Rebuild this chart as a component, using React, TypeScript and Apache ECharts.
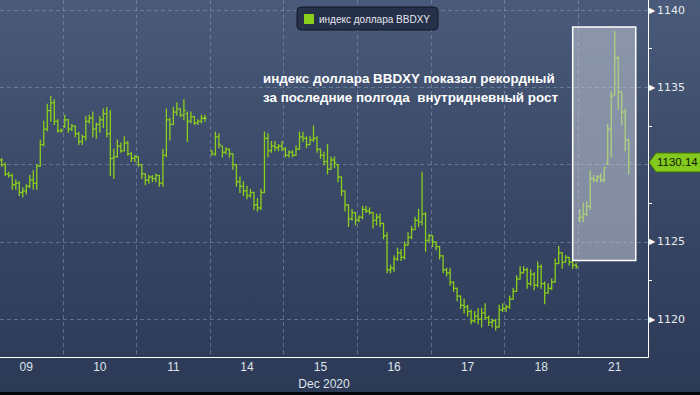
import React, { useEffect, useRef } from 'react';
import * as echarts from 'echarts';

type Bar = [number, number, number, number] | null; // open, high, low, close

const seriesName = 'индекс доллара BBDXY';
const annotation = 'индекс доллара BBDXY показал рекордный\nза последние полгода  внутридневный рост';
const dayLabels = ['09', '10', '11', '14', '15', '16', '17', '18', '21'];
const daySlots = [18, 21, 21, 21, 21, 21, 21, 21, 20];
const dayCenterSlot = [7, 10, 10, 10, 10, 10, 10, 10, 10];
const axisName = 'Dec 2020';

const dec09: Bar[] = [
  [1130.3, 1130.4, 1129.9, 1130.0], [1130.0, 1130.1, 1129.3, 1129.4], [1129.4, 1129.5, 1129.2, 1129.3],
  [1129.3, 1129.4, 1128.4, 1128.7], [1128.7, 1129.0, 1128.4, 1128.8], [1128.8, 1128.9, 1128.0, 1128.2],
  [1128.2, 1128.5, 1127.9, 1128.3], [1128.3, 1128.7, 1128.1, 1128.6], [1128.6, 1129.3, 1128.5, 1129.0],
  [1129.0, 1129.6, 1128.4, 1128.8], [1128.8, 1130.0, 1128.4, 1129.9], [1129.9, 1131.6, 1129.9, 1131.3],
  [1131.3, 1132.8, 1131.2, 1132.3], [1132.3, 1133.9, 1132.2, 1133.5], [1133.5, 1134.4, 1132.8, 1134.0],
  [1134.0, 1134.2, 1132.6, 1132.8], [1132.8, 1132.9, 1132.1, 1132.2], [1132.2, 1132.3, 1132.1, 1132.2],
];
const dec10: Bar[] = [
  [1132.5, 1133.2, 1132.4, 1132.9], [1132.9, 1132.9, 1132.1, 1132.3], [1132.3, 1132.6, 1132.2, 1132.5],
  [1132.5, 1132.5, 1131.8, 1132.0], [1132.0, 1132.1, 1131.3, 1131.5], [1131.5, 1131.9, 1131.3, 1131.8],
  [1131.8, 1133.1, 1131.6, 1132.8], [1132.8, 1133.2, 1132.7, 1133.0], [1133.0, 1133.4, 1131.8, 1132.3],
  [1132.3, 1132.7, 1131.7, 1132.6], [1132.6, 1133.1, 1132.1, 1132.9], [1132.9, 1133.6, 1132.4, 1133.3],
  [1133.3, 1133.7, 1131.8, 1132.0], [1132.0, 1133.5, 1129.3, 1130.4], [1130.4, 1131.0, 1129.1, 1130.5],
  [1130.5, 1131.6, 1130.5, 1131.2], [1131.2, 1131.4, 1130.8, 1130.9], [1130.9, 1131.8, 1130.9, 1131.4],
  [1131.4, 1131.5, 1130.6, 1130.7], [1130.7, 1130.8, 1130.2, 1130.4], [1130.4, 1130.6, 1130.2, 1130.5],
];
const dec11: Bar[] = [
  [1130.5, 1130.5, 1129.9, 1130.0], [1130.0, 1130.0, 1129.1, 1129.4], [1129.4, 1129.4, 1128.7, 1129.0],
  [1129.0, 1129.3, 1128.8, 1129.2], [1129.2, 1129.3, 1128.9, 1129.1], [1129.1, 1129.4, 1128.9, 1129.3],
  [1129.3, 1129.3, 1128.6, 1128.8], [1128.8, 1131.0, 1128.6, 1130.6], [1130.6, 1133.6, 1130.5, 1132.9],
  [1132.9, 1133.0, 1131.6, 1132.6], [1132.6, 1133.7, 1132.6, 1133.4], [1133.4, 1134.0, 1133.2, 1133.6],
  [1133.6, 1133.6, 1133.1, 1133.2], [1133.2, 1134.2, 1132.9, 1133.5], [1133.3, 1133.4, 1131.5, 1132.8],
  [1132.8, 1133.4, 1132.7, 1133.1], [1133.1, 1133.1, 1132.6, 1132.7], [1132.7, 1132.9, 1132.6, 1132.8],
  [1132.8, 1133.2, 1132.7, 1133.0], [1133.0, 1133.2, 1132.8, 1133.0], null,
];
const dec14: Bar[] = [
  [1130.9, 1130.9, 1130.6, 1130.7], [1130.7, 1132.1, 1130.6, 1131.8], [1131.8, 1132.0, 1131.1, 1131.3],
  [1131.2, 1131.2, 1130.5, 1130.8], [1130.8, 1131.1, 1130.7, 1131.0], [1131.0, 1131.0, 1130.5, 1130.7],
  [1130.7, 1130.7, 1129.7, 1130.0], [1130.0, 1130.0, 1128.6, 1128.9], [1128.9, 1129.2, 1128.2, 1128.6],
  [1128.6, 1128.9, 1128.0, 1128.3], [1128.3, 1128.6, 1127.8, 1128.0], [1128.0, 1128.4, 1127.9, 1128.2],
  [1128.2, 1128.2, 1127.1, 1127.4], [1127.4, 1127.8, 1127.0, 1127.2], [1127.2, 1128.4, 1127.1, 1128.2],
  [1128.2, 1132.1, 1128.2, 1131.7], [1131.7, 1132.0, 1130.5, 1130.9], [1130.9, 1131.5, 1130.8, 1131.2],
  [1131.2, 1131.5, 1130.9, 1131.1], [1131.1, 1131.3, 1130.9, 1131.2], [1131.2, 1131.5, 1130.9, 1131.0],
];
const dec15: Bar[] = [
  [1131.0, 1131.1, 1130.5, 1130.6], [1130.6, 1130.9, 1130.5, 1130.8], [1130.8, 1130.9, 1130.5, 1130.6],
  [1130.6, 1131.2, 1130.6, 1131.0], [1131.0, 1132.1, 1131.0, 1131.8], [1131.8, 1132.1, 1131.5, 1131.7],
  [1131.7, 1131.8, 1131.1, 1131.3], [1131.3, 1131.8, 1131.3, 1131.6], [1131.6, 1132.5, 1131.5, 1131.7],
  [1131.7, 1131.8, 1130.8, 1131.0], [1131.0, 1131.0, 1130.4, 1130.6], [1130.6, 1130.8, 1130.0, 1130.2],
  [1130.2, 1131.3, 1129.4, 1129.7], [1129.7, 1130.5, 1129.7, 1130.3], [1130.3, 1130.5, 1129.8, 1130.1],
  [1130.0, 1130.0, 1128.9, 1129.2], [1129.2, 1129.2, 1128.0, 1128.3], [1128.3, 1128.3, 1127.0, 1127.4],
  [1127.4, 1127.4, 1126.0, 1126.5], [1126.5, 1127.1, 1126.4, 1126.9], [1126.9, 1126.9, 1126.1, 1126.4],
];
const dec16: Bar[] = [
  [1126.4, 1126.7, 1126.3, 1126.6], [1126.6, 1127.3, 1126.5, 1127.1], [1127.1, 1127.3, 1126.9, 1127.0],
  [1127.0, 1127.2, 1126.8, 1126.9], [1126.9, 1126.9, 1125.9, 1126.4], [1126.4, 1126.8, 1126.1, 1126.6],
  [1126.6, 1126.8, 1126.0, 1126.2], [1126.2, 1126.2, 1125.2, 1125.4], [1125.4, 1125.6, 1123.0, 1123.2],
  [1123.2, 1123.5, 1123.0, 1123.3], [1123.3, 1124.1, 1123.1, 1123.9], [1123.9, 1124.6, 1123.8, 1124.3],
  [1124.3, 1124.5, 1123.8, 1124.0], [1124.0, 1125.0, 1123.9, 1124.8], [1124.8, 1125.6, 1124.8, 1125.3],
  [1125.3, 1126.0, 1125.2, 1125.8], [1125.8, 1126.6, 1125.8, 1126.4], [1126.4, 1127.1, 1126.0, 1126.3],
  [1126.3, 1129.5, 1126.1, 1126.8], [1126.8, 1126.9, 1124.4, 1125.1], [1125.1, 1125.5, 1125.0, 1125.4],
];
const dec17: Bar[] = [
  [1125.4, 1125.4, 1124.7, 1125.0], [1125.0, 1125.0, 1124.5, 1124.7], [1124.7, 1124.7, 1123.9, 1124.1],
  [1124.1, 1124.1, 1123.0, 1123.2], [1123.2, 1123.3, 1122.8, 1123.0], [1123.0, 1123.3, 1122.2, 1122.4],
  [1122.4, 1122.4, 1121.8, 1122.0], [1122.0, 1122.0, 1121.2, 1121.5], [1121.5, 1121.5, 1120.7, 1120.9],
  [1120.9, 1121.3, 1120.4, 1120.8], [1120.8, 1120.9, 1120.2, 1120.5], [1120.5, 1120.6, 1119.7, 1119.9],
  [1119.9, 1120.5, 1119.8, 1120.2], [1120.2, 1120.7, 1119.7, 1120.0], [1120.0, 1120.7, 1119.5, 1120.4],
  [1120.4, 1121.0, 1120.0, 1120.1], [1120.1, 1120.2, 1119.6, 1119.8], [1119.8, 1120.0, 1119.5, 1119.9],
  [1119.9, 1120.0, 1119.3, 1119.5], [1119.5, 1120.9, 1119.5, 1120.6], [1120.6, 1121.0, 1120.5, 1120.7],
];
const dec18: Bar[] = [
  [1120.7, 1120.9, 1120.5, 1120.8], [1120.8, 1121.5, 1120.7, 1121.3], [1121.3, 1122.0, 1121.3, 1121.8],
  [1121.8, 1122.8, 1121.8, 1122.6], [1122.6, 1123.4, 1122.6, 1123.0], [1123.0, 1123.4, 1123.0, 1123.2],
  [1123.2, 1123.3, 1122.0, 1122.3], [1122.3, 1123.2, 1122.2, 1122.9], [1122.9, 1123.0, 1121.9, 1122.2],
  [1122.2, 1123.7, 1122.1, 1123.4], [1123.4, 1123.5, 1122.0, 1122.3], [1122.3, 1122.4, 1121.0, 1121.7],
  [1121.7, 1122.3, 1121.7, 1122.0], [1122.0, 1122.6, 1121.9, 1122.4], [1122.4, 1123.9, 1122.4, 1123.6],
  [1123.6, 1124.7, 1123.6, 1124.3], [1124.3, 1124.3, 1123.3, 1123.7], [1123.7, 1124.1, 1123.7, 1124.0],
  [1124.0, 1124.0, 1123.5, 1123.7], [1123.7, 1123.8, 1123.3, 1123.5], [1123.5, 1123.6, 1123.3, 1123.4],
];
const dec21: Bar[] = [
  [1126.5, 1127.1, 1126.3, 1126.6], [1126.6, 1127.5, 1126.3, 1126.8], [1126.8, 1127.6, 1126.7, 1127.3],
  [1127.3, 1129.6, 1127.1, 1129.1], [1129.1, 1129.3, 1128.9, 1129.0], [1129.0, 1129.3, 1128.9, 1129.2],
  [1129.2, 1129.4, 1128.9, 1129.0], [1129.0, 1129.8, 1128.9, 1129.8], [1130.1, 1132.6, 1130.0, 1132.3],
  [1132.3, 1134.7, 1130.5, 1134.4], [1134.5, 1138.6, 1134.5, 1136.9], [1136.9, 1137.0, 1133.6, 1134.7],
  [1134.7, 1134.7, 1132.6, 1133.4], [1133.4, 1133.6, 1130.9, 1131.6], [1131.6, 1131.6, 1129.4, 1130.14],
  null, null, null, null, null,
];

const highlightSlots = [163, 181];
const highlightValues = [1123.8, 1138.9];
const yMin = 1117.55;
const yMax = 1140.65;

const barColor = '#8bcf1d';

export default function App() {
  const ref = useRef<HTMLDivElement>(null);

  useEffect(() => {
    if (!ref.current) return;
    const chart = echarts.init(ref.current, undefined, { renderer: 'svg' });

    const allBars: Bar[] = [...dec09, ...dec10, ...dec11, ...dec14, ...dec15, ...dec16, ...dec17, ...dec18, ...dec21];
    const categories: string[] = [];
    const centers = new Set<number>();
    const bounds = new Set<number>();
    let off = 0;
    dayLabels.forEach((d, di) => {
      if (di > 0) bounds.add(off);
      centers.add(off + dayCenterSlot[di]);
      for (let k = 0; k < daySlots[di]; k++) categories.push(`${d}-${k}`);
      off += daySlots[di];
    });

    const data: any[] = [];
    allBars.forEach((b, i) => {
      if (b) data.push([i, b[0], b[1], b[2], b[3]]);
    });
    let lastClose = 0;
    for (let i = allBars.length - 1; i >= 0; i--) {
      const b = allBars[i];
      if (b) { lastClose = b[3]; break; }
    }

    const H = chart.getHeight();
    const axisY = 361.5;
    const gridRight = 52;
    const labelFont = '"Liberation Sans Narrow", "Liberation Sans", sans-serif';

    chart.setOption({
      animation: false,
      backgroundColor: 'transparent',
      grid: { left: -1, right: gridRight, top: 0, bottom: H - axisY, containLabel: false },
      legend: {
        data: [{ name: seriesName, icon: 'rect' }],
        left: 297,
        top: 7,
        itemWidth: 10,
        itemHeight: 10,
        itemGap: 6,
        padding: [7, 8, 6, 7],
        backgroundColor: '#263049',
        borderColor: '#111827',
        borderWidth: 1,
        borderRadius: 4,
        textStyle: { color: '#e6e9ef', fontSize: 10, fontFamily: '"Liberation Sans", sans-serif' },
      },
      xAxis: {
        type: 'category',
        data: categories,
        boundaryGap: true,
        axisLine: { show: true, lineStyle: { color: '#ffffff', width: 1 } },
        axisTick: { show: false },
        axisLabel: {
          interval: (idx: number) => centers.has(idx),
          formatter: (v: string) => v.split('-')[0],
          color: '#dfe3ea',
          fontSize: 12,
          fontFamily: labelFont,
          margin: 4,
        },
        splitLine: {
          show: true,
          interval: (idx: number) => bounds.has(idx),
          lineStyle: { type: [4, 3], color: 'rgba(150,166,198,0.45)', width: 1 },
        },
        name: axisName,
        nameLocation: 'middle',
        nameGap: 18,
        nameTextStyle: { color: '#dfe3ea', fontSize: 12, fontFamily: labelFont },
      },
      yAxis: {
        type: 'value',
        position: 'right',
        min: yMin,
        max: yMax,
        splitNumber: 5,
        axisLine: { show: true, lineStyle: { color: '#ffffff', width: 1 } },
        axisTick: { show: false },
        minorTick: { show: true, splitNumber: 2, length: 4, lineStyle: { color: '#ffffff', width: 1 } },
        axisLabel: {
          margin: 1,
          formatter: (v: number) =>
            Math.abs(v % 5) < 1e-6 && Math.abs(v - lastClose) > 2 ? `{t|▶}{v|${v}}` : '',
          rich: {
            t: { fontSize: 8, color: '#ffffff', padding: [0, 2, 0, 0] },
            v: { fontSize: 11, color: '#e8ebf0', fontFamily: 'DejaVu Sans' },
          },
        },
        splitLine: {
          show: true,
          showMinLine: false,
          showMaxLine: false,
          lineStyle: { type: [4, 3], color: 'rgba(150,166,198,0.45)', width: 1 },
        },
      },
      series: [
        {
          type: 'custom',
          name: seriesName,
          clip: true,
          itemStyle: { color: barColor },
          encode: { x: 0, y: [1, 2, 3, 4] },
          data,
          renderItem: (_p: any, api: any) => {
            const x = api.value(0);
            const o = api.coord([x, api.value(1)]);
            const h = api.coord([x, api.value(2)]);
            const l = api.coord([x, api.value(3)]);
            const c = api.coord([x, api.value(4)]);
            const t = 1.8;
            const style = { stroke: barColor, lineWidth: 1.3 };
            return {
              type: 'group',
              children: [
                { type: 'line', shape: { x1: h[0], y1: h[1] - 0.5, x2: l[0], y2: l[1] + 0.5 }, style },
                { type: 'line', shape: { x1: o[0] - t, y1: o[1], x2: o[0], y2: o[1] }, style },
                { type: 'line', shape: { x1: c[0], y1: c[1], x2: c[0] + t, y2: c[1] }, style },
              ],
            };
          },
        },
      ],
    });

    const p1 = chart.convertToPixel({ gridIndex: 0 }, [highlightSlots[0], highlightValues[1]]) as number[];
    const p2 = chart.convertToPixel({ gridIndex: 0 }, [highlightSlots[1], highlightValues[0]]) as number[];
    const yLast = chart.convertToPixel({ yAxisIndex: 0 }, lastClose) as number;
    const axisX = chart.getWidth() - gridRight;

    chart.setOption({
      graphic: [
        {
          type: 'rect',
          z: 100,
          shape: { x: p1[0], y: p1[1], width: p2[0] - p1[0], height: p2[1] - p1[1] },
          style: { fill: 'rgba(208,212,222,0.5)', stroke: '#ffffff', lineWidth: 1.5 },
        },
        {
          type: 'text',
          z: 100,
          left: 263,
          top: 69,
          style: {
            text: annotation,
            fill: '#ffffff',
            font: 'bold 13.4px "Liberation Sans", Arial, sans-serif',
            lineHeight: 19,
          },
        },
        {
          type: 'polygon',
          z: 100,
          shape: {
            points: [
              [axisX + 1, yLast],
              [axisX + 8, yLast - 9.5],
              [axisX + 60, yLast - 9.5],
              [axisX + 60, yLast + 9.5],
              [axisX + 8, yLast + 9.5],
            ],
          },
          style: { fill: '#84c91d', stroke: '#3f6e0c', lineWidth: 1 },
        },
        {
          type: 'text',
          z: 101,
          x: axisX + 9,
          y: yLast,
          style: {
            text: String(lastClose),
            fill: '#0d1a06',
            font: '11.5px "Liberation Sans", sans-serif',
            verticalAlign: 'middle',
          },
        },
      ],
    });

    return () => chart.dispose();
  }, []);

  return (
    <div
      ref={ref}
      style={{
        position: 'fixed',
        left: 0,
        top: 0,
        width: 700,
        height: 395,
        background:
          'linear-gradient(to bottom, #4a5a7a 0px, #3a4967 180px, #2e3c5a 359px, #2c3a56 392px, #05070b 392px, #05070b 395px)',
      }}
    />
  );
}
